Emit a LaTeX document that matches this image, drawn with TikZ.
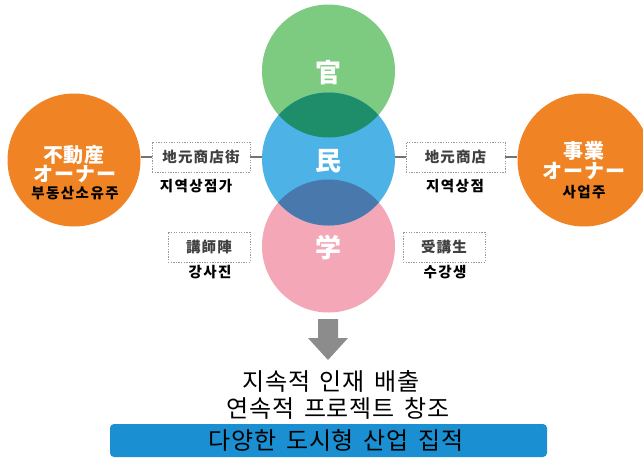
\documentclass[tikz,border=0pt]{standalone}
\usepackage{fontspec}
\newfontfamily\kr{Noto Sans CJK KR}
\newfontfamily\krbig[LetterSpace=3,WordSpace=1.6]{Noto Sans CJK KR}
\newfontfamily\jp{Noto Sans CJK JP}
\usetikzlibrary{shapes.geometric}
\definecolor{orng}{HTML}{F08324}
\definecolor{cgreen}{HTML}{7DCB80}
\definecolor{cblue}{HTML}{4DB3E6}
\definecolor{cpink}{HTML}{F4A7B6}
\definecolor{lensg}{HTML}{1E8E6A}
\definecolor{lensb}{HTML}{4878AC}
\definecolor{barblue}{HTML}{1A90D2}
\definecolor{boxtxt}{HTML}{404040}
\definecolor{arrowgray}{HTML}{8C8C8C}
\tikzset{
  bigcirc/.style={circle, minimum size=133pt, inner sep=0pt},
  owner/.style={circle, fill=orng, minimum size=133pt, inner sep=0pt},
  wlabel/.style={text=white, font=\jp\bfseries\fontsize{26}{28}\selectfont, inner sep=0pt},
  olabel/.style={text=white, font=\jp\bfseries\fontsize{20}{22}\selectfont\addfontfeature{LetterSpace=4}, inner sep=0pt},
  klabel/.style={text=black, font=\kr\bfseries\fontsize{14.5}{16}\selectfont\addfontfeature{LetterSpace=10}, inner sep=0pt},
  dbox/.style={draw=gray!80, line width=0.9pt, dash pattern=on 1.3pt off 1.3pt, text=boxtxt,
     font=\jp\bfseries\fontsize{14.5}{16}\selectfont\addfontfeature{LetterSpace=8}, inner sep=0pt, minimum height=30pt},
  conn/.style={draw=gray!90!black, line width=1.2pt},
  big/.style={text=black, font=\krbig\fontsize{24}{26}\selectfont, inner sep=0pt}
}
\begin{document}
\begin{tikzpicture}[x=1pt,y=-1pt]
\useasboundingbox (0,0) rectangle (643,458);
\fill[white] (0,0) rectangle (643,458);

% central circles
\node[bigcirc, fill=cgreen] (gov) at (328.5,71) {};
\node[bigcirc, fill=cpink] (aca) at (328.5,246) {};
\node[bigcirc, fill=cblue] (civ) at (328.5,159) {};
\begin{scope}
  \clip (gov.center) circle (66.5pt);
  \fill[lensg] (civ.center) circle (66.5pt);
\end{scope}
\begin{scope}
  \clip (aca.center) circle (66.5pt);
  \fill[lensb] (civ.center) circle (66.5pt);
\end{scope}
\node[wlabel] (tgov) at (328.5,73) {官};
\node[wlabel] (tciv) at (328.5,161) {民};
\node[wlabel] (taca) at (328.5,248) {学};

% owners
\node[owner] (lo) at (74,160) {};
\node[owner] (ro) at (584,160) {};
\node[olabel] (lo1) at (74,155) {不動産};
\node[olabel] (lo2) at (75,174) {オーナー};
\node[klabel] (lo3) at (75,193) {부동산소유주};
\node[olabel] (ro1) at (584,151) {事業};
\node[olabel] (ro2) at (584,171) {オーナー};
\node[klabel] (ro3) at (584,192) {사업주};

% dotted boxes
\node[dbox, minimum width=98pt] (b1) at (201,157) {地元商店街};
\node[dbox, minimum width=99pt] (b2) at (455.5,157) {地元商店};
\node[dbox, minimum width=82pt] (b3) at (209,247) {講師陣};
\node[dbox, minimum width=82pt] (b4) at (444,247) {受講生};
\node[klabel] (k1) at (196,186) {지역상점가};
\node[klabel] (k2) at (455,186) {지역상점};
\node[klabel] (k3) at (210,272) {강사진};
\node[klabel] (k4) at (445,272) {수강생};

% connectors
\draw[conn] (b1.west) -- (b1.west -| lo.east);
\draw[conn] (b1.east) -- (b1.east -| civ.west);
\draw[conn] (b2.west) -- (b2.west -| civ.east);
\draw[conn] (b2.east) -- (b2.east -| ro.west);

% arrow
\fill[arrowgray] (318,319) -- (338,319) -- (338,338) -- (348,338) -- (328,360) -- (308,338) -- (318,338) -- cycle;

% result text
\node[big] (r1) at (331,381) {지속적 인재 배출};
\node[big] (r2) at (338,408) {연속적 프로젝트 창조};
\node[fill=barblue, rounded corners=4pt, minimum width=437pt, minimum height=33pt, inner sep=0pt] (bar) at (328.5,440.5) {};
\node[big] (r3) at (336,440) {다양한 도시형 산업 집적};
\end{tikzpicture}
\end{document}
